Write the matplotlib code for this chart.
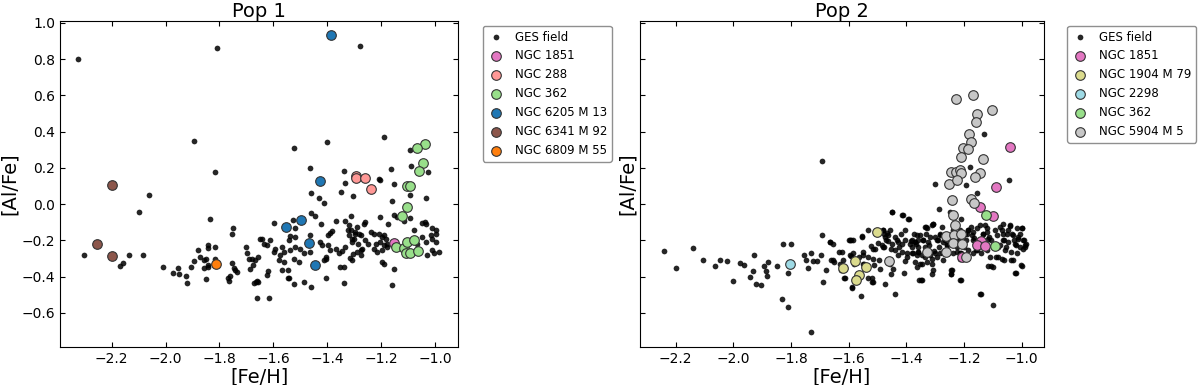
import matplotlib.pyplot as plt
import numpy as np

plt.rcParams['font.family'] = 'DejaVu Sans'

# ---- Pop 1 : GES field stars ([Fe/H], [Al/Fe]) ----
pop1_field = [
    (-2.324, 0.803), (-1.810, 0.862), (-1.277, 0.871), (-1.893, 0.349), (-1.816, 0.180),
    (-1.190, 0.371), (-1.522, 0.312), (-1.399, 0.343), (-1.094, 0.298), (-2.061, 0.049),
    (-2.098, -0.044), (-1.834, -0.083), (-1.462, 0.200), (-1.338, 0.183), (-1.162, 0.193),
    (-1.088, 0.213), (-1.024, 0.175), (-1.335, 0.119), (-1.208, 0.138), (-1.204, 0.135),
    (-1.152, 0.110), (-1.460, 0.062), (-1.431, 0.034), (-1.410, 0.006), (-1.347, 0.068),
    (-1.305, 0.046), (-1.158, 0.016), (-1.093, 0.049), (-1.032, 0.034), (-1.599, -0.101),
    (-2.303, -0.283), (-2.169, -0.341), (-2.158, -0.324), (-2.137, -0.283), (-2.084, -0.280),
    (-2.008, -0.348), (-1.973, -0.377), (-1.952, -0.353), (-1.950, -0.383), (-1.924, -0.396),
    (-1.921, -0.436), (-1.905, -0.344), (-1.893, -0.313), (-1.880, -0.254), (-1.871, -0.294),
    (-1.859, -0.309), (-1.850, -0.305), (-1.844, -0.239), (-1.842, -0.226), (-1.815, -0.236),
    (-1.856, -0.350), (-1.841, -0.346), (-1.841, -0.333), (-1.850, -0.414), (-1.817, -0.300),
    (-1.768, -0.410), (-1.765, -0.425), (-1.762, -0.398), (-1.751, -0.129), (-1.754, -0.164),
    (-1.754, -0.324), (-1.745, -0.350), (-1.735, -0.374), (-1.741, -0.364), (-1.703, -0.236),
    (-1.696, -0.269), (-1.692, -0.304), (-1.686, -0.359), (-1.676, -0.337), (-1.667, -0.309),
    (-1.679, -0.305), (-1.655, -0.294), (-1.651, -0.192), (-1.663, -0.429), (-1.655, -0.429),
    (-1.661, -0.515), (-1.460, -0.046), (-1.445, -0.063), (-1.421, -0.107), (-1.527, -0.089),
    (-1.519, -0.131), (-1.462, -0.171), (-1.539, -0.175), (-1.542, -0.195), (-1.518, -0.181),
    (-1.369, -0.094), (-1.390, -0.159), (-1.382, -0.148), (-1.398, -0.170), (-1.332, -0.090),
    (-1.313, -0.067), (-1.323, -0.144), (-1.320, -0.171), (-1.307, -0.190), (-1.295, -0.153),
    (-1.286, -0.217), (-1.642, -0.190), (-1.611, -0.195), (-1.636, -0.217), (-1.623, -0.227),
    (-1.592, -0.245), (-1.599, -0.263), (-1.568, -0.236), (-1.562, -0.263), (-1.574, -0.282),
    (-1.537, -0.254), (-1.518, -0.236), (-1.502, -0.245), (-1.487, -0.269), (-1.465, -0.263),
    (-1.425, -0.208), (-1.419, -0.227), (-1.396, -0.223), (-1.388, -0.254), (-1.369, -0.245),
    (-1.357, -0.272), (-1.344, -0.258), (-1.332, -0.236), (-1.580, -0.309), (-1.562, -0.319),
    (-1.524, -0.300), (-1.506, -0.319), (-1.406, -0.300), (-1.413, -0.309), (-1.403, -0.291),
    (-1.351, -0.346), (-1.338, -0.346), (-1.568, -0.364), (-1.547, -0.364), (-1.540, -0.405),
    (-1.661, -0.423), (-1.673, -0.434), (-1.623, -0.392), (-1.621, -0.368), (-1.524, -0.442),
    (-1.485, -0.432), (-1.459, -0.457), (-1.403, -0.405), (-1.617, -0.515), (-1.320, -0.116),
    (-1.289, -0.126), (-1.283, -0.162), (-1.150, -0.061), (-1.140, -0.070), (-1.094, -0.074),
    (-1.115, -0.094), (-1.204, -0.070), (-1.258, -0.098), (-1.264, -0.107), (-1.175, -0.107),
    (-1.049, -0.103), (-1.038, -0.098), (-1.034, -0.112), (-1.009, -0.134), (-0.997, -0.140),
    (-0.997, -0.162), (-1.016, -0.171), (-1.313, -0.144), (-1.295, -0.162), (-1.276, -0.171),
    (-1.301, -0.190), (-1.307, -0.208), (-1.239, -0.153), (-1.227, -0.162), (-1.208, -0.162),
    (-1.195, -0.181), (-1.189, -0.171), (-1.183, -0.190), (-1.261, -0.199), (-1.249, -0.217),
    (-1.220, -0.217), (-1.202, -0.208), (-1.189, -0.227), (-1.177, -0.217), (-1.270, -0.245),
    (-1.288, -0.263), (-1.276, -0.254), (-1.227, -0.245), (-1.214, -0.263), (-1.195, -0.254),
    (-1.177, -0.236), (-1.307, -0.309), (-1.195, -0.319), (-1.189, -0.331), (-1.152, -0.359),
    (-1.158, -0.446), (-1.078, -0.144), (-1.047, -0.181), (-1.034, -0.208), (-1.065, -0.217),
    (-1.009, -0.190), (-0.997, -0.208), (-1.009, -0.254), (-1.003, -0.272), (-0.985, -0.263),
    (-1.031, -0.282), (-1.338, -0.433), (-1.314, -0.297), (-1.304, -0.273), (-1.276, -0.282),
    (-1.547, -0.405),
]

# ---- Pop 1 : globular clusters ----
pop1_ngc1851 = [(-1.153, -0.212)]
pop1_ngc288 = [(-1.294, 0.158), (-1.292, 0.142), (-1.259, 0.147), (-1.239, 0.082)]
pop1_ngc362 = [
    (-1.038, 0.334), (-1.066, 0.312), (-1.043, 0.228), (-1.058, 0.183), (-1.105, 0.099),
    (-1.093, 0.103), (-1.103, -0.015), (-1.123, -0.067), (-1.146, -0.236), (-1.115, -0.241),
    (-1.105, -0.208), (-1.078, -0.195), (-1.109, -0.272), (-1.093, -0.272), (-1.062, -0.260),
]
pop1_ngc6205 = [(-1.386, 0.932), (-1.425, 0.126), (-1.496, -0.087), (-1.553, -0.127),
                (-1.466, -0.216), (-1.444, -0.337)]
pop1_ngc6341 = [(-2.200, 0.108), (-2.253, -0.218), (-2.199, -0.286)]
pop1_ngc6809 = [(-1.813, -0.331)]

# ---- Pop 2 : GES field stars ----
pop2_field = [
    (-2.240, -0.258), (-2.199, -0.352), (-2.139, -0.239), (-2.104, -0.306), (-2.064, -0.341),
    (-2.046, -0.306), (-2.023, -0.315), (-2.002, -0.422), (-1.977, -0.324), (-1.962, -0.335),
    (-1.942, -0.403), (-1.931, -0.371), (-1.928, -0.280), (-1.923, -0.442), (-1.905, -0.445),
    (-1.894, -0.342), (-1.888, -0.369), (-1.882, -0.397), (-1.880, -0.319), (-1.848, -0.341),
    (-1.832, -0.521), (-1.827, -0.221), (-1.800, -0.221), (-1.812, -0.569), (-1.812, -0.377),
    (-1.755, -0.279), (-1.748, -0.309), (-1.740, -0.352), (-1.731, -0.267), (-1.723, -0.313),
    (-1.711, -0.315), (-1.696, -0.282), (-1.694, -0.168), (-1.690, -0.429), (-1.680, -0.364),
    (-1.665, -0.210), (-1.662, -0.309), (-1.650, -0.319), (-1.732, -0.705), (-1.633, -0.263),
    (-1.691, 0.236), (-1.631, -0.328), (-1.627, -0.361), (-1.614, -0.405), (-1.598, -0.199),
    (-1.590, -0.199), (-1.591, -0.287), (-1.589, -0.456), (-1.581, -0.328), (-1.565, -0.291),
    (-1.558, -0.508), (-1.553, -0.180), (-1.550, -0.282), (-1.545, -0.328), (-1.532, -0.407),
    (-1.519, -0.429), (-1.516, -0.304), (-1.512, -0.337), (-1.508, -0.245), (-1.498, -0.214),
    (-1.494, -0.306), (-1.481, -0.144), (-1.476, -0.162), (-1.472, -0.442), (-1.478, -0.236),
    (-1.469, -0.199), (-1.462, -0.171), (-1.454, -0.245), (-1.449, -0.042), (-1.445, -0.355),
    (-1.439, -0.493), (-1.432, -0.199), (-1.425, -0.236), (-1.419, -0.162), (-1.412, -0.061),
    (-1.405, -0.144), (-1.403, -0.315), (-1.399, -0.272), (-1.392, -0.079), (-1.385, -0.203),
    (-1.379, -0.236), (-1.372, -0.162), (-1.365, -0.217), (-1.359, -0.263), (-1.352, -0.328),
    (-1.348, -0.420), (-1.342, -0.199), (-1.335, -0.236), (-1.330, -0.162), (-1.332, -0.125),
    (-1.322, -0.226), (-1.316, -0.263), (-1.310, -0.300), (-1.306, -0.364), (-1.306, -0.107),
    (-1.302, -0.258), (-1.299, 0.110), (-1.288, -0.028), (-1.292, -0.199), (-1.286, -0.236),
    (-1.282, -0.162), (-1.276, -0.125), (-1.272, -0.272), (-1.272, -0.309), (-1.266, -0.199),
    (-1.259, -0.226), (-1.255, -0.272), (-1.245, -0.383), (-1.242, -0.361), (-1.239, -0.144),
    (-1.233, -0.162), (-1.226, -0.180), (-1.219, -0.199), (-1.215, -0.144), (-1.213, -0.420),
    (-1.213, -0.300), (-1.209, -0.272), (-1.199, -0.236), (-1.193, -0.199), (-1.189, -0.162),
    (-1.186, -0.144), (-1.193, 0.105), (-1.180, 0.206), (-1.175, -0.125), (-1.170, -0.153),
    (-1.166, -0.184), (-1.162, -0.217), (-1.159, -0.254), (-1.153, 0.063), (-1.142, -0.493),
    (-1.130, 0.385), (-1.126, -0.116), (-1.120, -0.153), (-1.113, -0.180), (-1.109, -0.291),
    (-1.106, -0.341), (-1.100, -0.558), (-1.093, -0.144), (-1.086, -0.171), (-1.080, -0.236),
    (-1.073, -0.125), (-1.044, 0.136), (-1.066, -0.162), (-1.060, -0.199), (-1.053, -0.236),
    (-1.047, -0.144), (-1.040, -0.116), (-1.033, -0.162), (-1.027, -0.199), (-1.020, -0.226),
    (-1.013, -0.190), (-1.007, -0.162), (-1.000, -0.134), (-0.993, -0.199), (-0.987, -0.236),
    (-0.984, -0.217), (-1.000, -0.341), (-1.020, -0.379), (-1.030, -0.306), (-1.083, -0.291),
    (-1.060, -0.306), (-1.106, -0.199), (-1.133, -0.162), (-1.210, -0.079), (-1.249, -0.042),
    # zoomed dense band around [Fe/H] -1.5
    (-1.451, -0.042), (-1.416, -0.061), (-1.393, -0.079), (-1.555, -0.177), (-1.595, -0.195),
    (-1.586, -0.195), (-1.532, -0.144), (-1.482, -0.144), (-1.468, -0.159), (-1.457, -0.144),
    (-1.474, -0.181), (-1.463, -0.203), (-1.451, -0.217), (-1.485, -0.227), (-1.480, -0.236),
    (-1.514, -0.245), (-1.524, -0.232), (-1.439, -0.181), (-1.428, -0.208), (-1.416, -0.217),
    (-1.405, -0.199), (-1.387, -0.217), (-1.370, -0.208), (-1.358, -0.236), (-1.439, -0.254),
    (-1.428, -0.282), (-1.416, -0.263), (-1.399, -0.291), (-1.381, -0.272), (-1.364, -0.282),
    (-1.624, -0.263), (-1.653, -0.309), (-1.619, -0.309), (-1.595, -0.282), (-1.584, -0.272),
    (-1.549, -0.263), (-1.532, -0.291), (-1.616, -0.410), (-1.589, -0.460), (-1.520, -0.410),
    (-1.517, -0.429), (-1.491, -0.355), (-1.454, -0.387), (-1.457, -0.331), (-1.408, -0.380),
    (-1.355, -0.420), (-1.549, -0.328), (-1.665, -0.208), (-1.653, -0.217),
    # zoomed dense band around [Fe/H] -1.25
    (-1.381, -0.199), (-1.370, -0.208), (-1.358, -0.199), (-1.335, -0.125), (-1.329, -0.134),
    (-1.312, -0.116), (-1.306, -0.107), (-1.364, -0.171), (-1.353, -0.171), (-1.341, -0.199),
    (-1.324, -0.208), (-1.318, -0.181), (-1.301, -0.181), (-1.289, -0.199), (-1.283, -0.171),
    (-1.376, -0.272), (-1.358, -0.263), (-1.347, -0.282), (-1.335, -0.291), (-1.318, -0.282),
    (-1.301, -0.272), (-1.295, -0.291), (-1.283, -0.272), (-1.370, -0.319), (-1.347, -0.328),
    (-1.329, -0.319), (-1.312, -0.328), (-1.364, -0.346), (-1.272, -0.208), (-1.260, -0.227),
    (-1.249, -0.208), (-1.231, -0.217), (-1.225, -0.236), (-1.214, -0.227), (-1.272, -0.263),
    (-1.254, -0.272), (-1.237, -0.272), (-1.225, -0.263), (-1.214, -0.272), (-1.197, -0.162),
    (-1.185, -0.144), (-1.173, -0.171), (-1.168, -0.199), (-1.156, -0.134), (-1.145, -0.116),
    (-1.133, -0.162), (-1.121, -0.134), (-1.116, -0.190), (-1.185, -0.254), (-1.168, -0.272),
    (-1.156, -0.254), (-1.139, -0.272), (-1.121, -0.254), (-1.243, -0.364), (-1.243, -0.383),
    (-1.211, -0.416), (-1.347, -0.420), (-1.145, -0.493), (-1.312, -0.383),
    # right edge of the band
    (-1.064, -0.110), (-1.040, -0.120), (-1.017, -0.131), (-1.000, -0.131), (-1.069, -0.144),
    (-1.052, -0.162), (-1.029, -0.171), (-1.012, -0.181), (-0.994, -0.199), (-0.988, -0.226),
    (-1.006, -0.236), (-1.023, -0.217), (-1.046, -0.208), (-1.064, -0.195), (-1.075, -0.226),
    (-1.058, -0.254), (-1.035, -0.263), (-1.017, -0.272), (-0.994, -0.245), (-1.087, -0.291),
    (-1.069, -0.300), (-1.035, -0.309), (-1.003, -0.333), (-1.116, -0.342), (-1.098, -0.346),
    (-1.023, -0.379),
]

# ---- Pop 2 : globular clusters ----
pop2_ngc1851 = [(-1.040, 0.316), (-1.087, 0.095), (-1.144, -0.015), (-1.100, -0.066),
                (-1.142, -0.203), (-1.154, -0.226), (-1.126, -0.232), (-1.205, -0.294)]
pop2_ngc1904 = [(-1.502, -0.153), (-1.621, -0.350), (-1.577, -0.313), (-1.540, -0.347),
                (-1.563, -0.392), (-1.575, -0.416)]
pop2_ngc2298 = [(-1.805, -0.331)]
pop2_ngc362 = [(-1.123, -0.059), (-1.092, -0.232)]
pop2_ngc5904 = [
    (-1.227, 0.582), (-1.170, 0.602), (-1.102, 0.522), (-1.154, 0.497), (-1.158, 0.451),
    (-1.182, 0.390), (-1.177, 0.341), (-1.203, 0.311), (-1.186, 0.302), (-1.211, 0.263),
    (-1.132, 0.252), (-1.243, 0.177), (-1.228, 0.180), (-1.214, 0.188), (-1.209, 0.173),
    (-1.144, 0.170), (-1.162, 0.151), (-1.251, 0.112), (-1.223, 0.131), (-1.241, 0.022),
    (-1.177, 0.031), (-1.165, 0.004), (-1.237, -0.061), (-1.231, -0.116), (-1.263, -0.177),
    (-1.235, -0.168), (-1.211, -0.162), (-1.263, -0.263), (-1.239, -0.213), (-1.208, -0.217),
    (-1.327, -0.263), (-1.194, -0.290), (-1.459, -0.311),
]

pop1_clusters = [
    ("NGC 1851", pop1_ngc1851, "#e377c2"),
    ("NGC 288", pop1_ngc288, "#ff9896"),
    ("NGC 362", pop1_ngc362, "#98df8a"),
    ("NGC 6205 M 13", pop1_ngc6205, "#1f77b4"),
    ("NGC 6341 M 92", pop1_ngc6341, "#8c564b"),
    ("NGC 6809 M 55", pop1_ngc6809, "#ff7f0e"),
]
pop2_clusters = [
    ("NGC 1851", pop2_ngc1851, "#e377c2"),
    ("NGC 1904 M 79", pop2_ngc1904, "#dbdb8d"),
    ("NGC 2298", pop2_ngc2298, "#9edae5"),
    ("NGC 362", pop2_ngc362, "#98df8a"),
    ("NGC 5904 M 5", pop2_ngc5904, "#c7c7c7"),
]


def draw_panel(ax, field, clusters, title, xlim, show_ylabels, leg_x):
    fx, fy = zip(*field)
    ax.scatter(fx, fy, s=17, color='k', alpha=0.85, linewidths=0, label='GES field', zorder=2)
    for name, pts, col in clusters:
        cx, cy = zip(*pts)
        ax.scatter(cx, cy, s=48, color=col, edgecolors='#333333', linewidths=0.8,
                   label=name, zorder=3)
    ax.set_xlim(*xlim)
    ax.set_ylim(-0.788, 1.011)
    ax.set_xticks(np.arange(-2.2, -0.95, 0.2))
    ax.set_yticks(np.arange(-0.6, 1.05, 0.2))
    ax.tick_params(direction='in', top=True, right=True, labelsize=10)
    if not show_ylabels:
        ax.tick_params(labelleft=False)
    ax.set_title(title, fontsize=14, pad=3)
    ax.set_xlabel('[Fe/H]', fontsize=14, labelpad=1)
    ax.set_ylabel('[Al/Fe]', fontsize=14, labelpad=2)
    leg = ax.legend(loc='upper left', bbox_to_anchor=(leg_x, 0.985), fontsize=8.5,
                    frameon=True, borderaxespad=0, handletextpad=0.9,
                    labelspacing=0.5, borderpad=0.4, handlelength=1.4)
    leg.get_frame().set_edgecolor('0.45')


fig = plt.figure(figsize=(12, 3.85), dpi=100)
ax1 = fig.add_axes([0.05, 0.0987, 0.3317, 0.8468])
ax2 = fig.add_axes([0.5333, 0.0987, 0.3367, 0.8468])

draw_panel(ax1, pop1_field, pop1_clusters, 'Pop 1', (-2.392, -0.914), True, 1.062)
draw_panel(ax2, pop2_field, pop2_clusters, 'Pop 2', (-2.324, -0.922), False, 1.058)

fig.savefig('out.png', dpi=100)
